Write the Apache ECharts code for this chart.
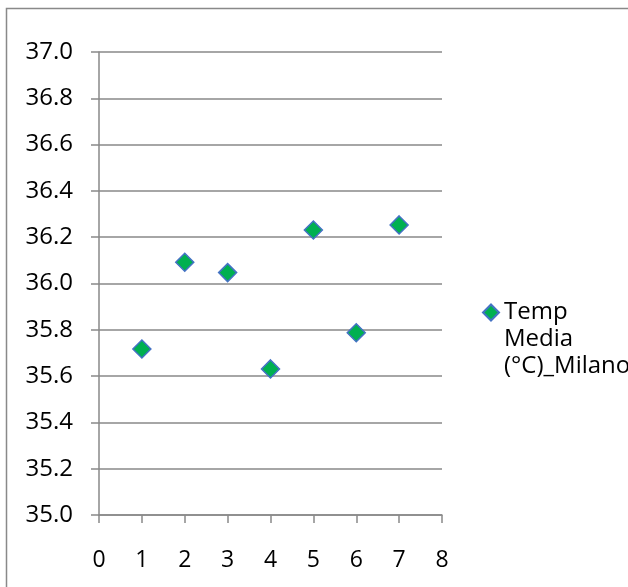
<!DOCTYPE html>
<html>
<head>
<meta charset="utf-8">
<script src="https://cdn.jsdelivr.net/npm/echarts@6/dist/echarts.min.js"></script>
<style>
  html, body { margin: 0; padding: 0; background: #fff; }
  #chart { width: 628px; height: 587px; }
</style>
</head>
<body>
<div id="chart"></div>
<script>
// Data
const seriesName = 'Temp Media (°C)_Milano';
const legendLines = ['Temp', 'Media', '(°C)_Milano'];
const xValues = [1, 2, 3, 4, 5, 6, 7];
const tempValues = [35.717, 36.092, 36.047, 35.631, 36.231, 35.787, 36.253];

const lineColor = '#898989';
const font = '"Open Sans", Lato, sans-serif';

const myChart = echarts.init(document.getElementById('chart'));

const option = {
    backgroundColor: '#fff',
    animation: false,
    textStyle: { fontFamily: font },
    graphic: [{
        type: 'rect',
        shape: { x: 6.5, y: 8.5, width: 700, height: 700 },
        style: { fill: 'none', stroke: lineColor, lineWidth: 1.5 },
        silent: true
    }],
    grid: { left: 99, right: 186, top: 52, bottom: 72 },
    legend: {
        data: [seriesName],
        left: 482,
        top: 313 - 68,
        padding: 0,
        itemWidth: 16,
        itemHeight: 16,
        itemGap: 0,
        icon: 'diamond',
        // two empty lines first so the icon sits beside the first text line
        formatter: () => '\n\n' + legendLines.join('\n'),
        textStyle: {
            fontFamily: font,
            fontSize: 24,
            color: '#000',
            lineHeight: 27
        }
    },
    xAxis: {
        type: 'value',
        min: 0,
        max: 8,
        interval: 1,
        axisLine: { show: true, onZero: false, lineStyle: { color: lineColor, width: 1.5 } },
        axisTick: { show: true, length: 8, lineStyle: { color: lineColor, width: 1.5 } },
        axisLabel: { color: '#000', fontSize: 23, margin: 34, fontFamily: font },
        splitLine: { show: false }
    },
    yAxis: {
        type: 'value',
        min: 35,
        max: 37,
        interval: 0.2,
        axisLine: { show: true, onZero: false, lineStyle: { color: lineColor, width: 1.5 } },
        axisTick: { show: true, length: 8, lineStyle: { color: lineColor, width: 1.5 } },
        axisLabel: {
            color: '#000',
            fontSize: 24,
            margin: 26,
            fontFamily: font,
            formatter: v => v.toFixed(1)
        },
        splitLine: { show: true, lineStyle: { color: lineColor, width: 1.5 } }
    },
    series: [{
        name: seriesName,
        type: 'scatter',
        symbol: 'diamond',
        symbolSize: 18,
        itemStyle: {
            color: '#00B050',
            borderColor: '#4472C4',
            borderWidth: 1.5,
            opacity: 1
        },
        data: xValues.map((x, i) => [x, tempValues[i]])
    }]
};

myChart.setOption(option);
</script>
</body>
</html>
